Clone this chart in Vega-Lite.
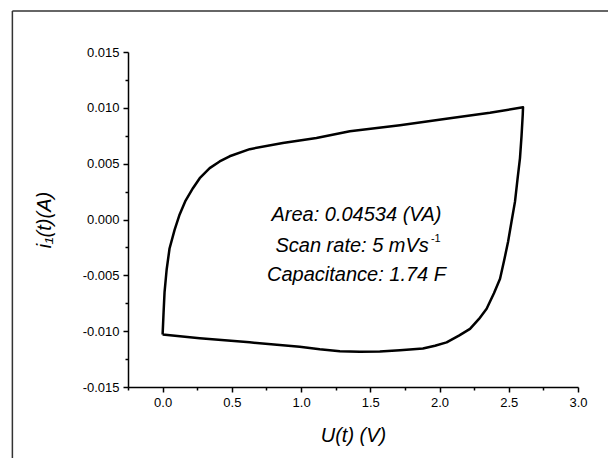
{
  "$schema": "https://vega.github.io/schema/vega-lite/v6.json",
  "width": 450,
  "height": 335,
  "autosize": {"type": "none"},
  "padding": {"left": 128, "top": 52, "right": 30, "bottom": 71},
  "background": "white",
  "config": {
    "view": {"stroke": null},
    "font": "Liberation Sans",
    "axis": {
      "domainColor": "black",
      "domainWidth": 1.5,
      "tickColor": "black",
      "tickWidth": 1.5,
      "tickSize": 5,
      "labelColor": "black",
      "labelFont": "Liberation Sans",
      "labelFontSize": 13,
      "titleFont": "Liberation Sans",
      "titleFontSize": 20,
      "titleFontStyle": "italic",
      "titleFontWeight": "normal",
      "titleColor": "black",
      "grid": false
    }
  },
  "resolve": {"axis": {"x": "independent", "y": "independent"}},
  "datasets": {
    "cv": [
      {"order": 1, "U": 0.0, "I": -0.0103},
      {"order": 2, "U": 0.007, "I": -0.0083},
      {"order": 3, "U": 0.014, "I": -0.0065},
      {"order": 4, "U": 0.029, "I": -0.0045},
      {"order": 5, "U": 0.05, "I": -0.0026},
      {"order": 6, "U": 0.087, "I": -0.0009},
      {"order": 7, "U": 0.123, "I": 0.00045},
      {"order": 8, "U": 0.166, "I": 0.0017},
      {"order": 9, "U": 0.219, "I": 0.0028},
      {"order": 10, "U": 0.268, "I": 0.0037},
      {"order": 11, "U": 0.34, "I": 0.0046},
      {"order": 12, "U": 0.412, "I": 0.0052},
      {"order": 13, "U": 0.484, "I": 0.00566},
      {"order": 14, "U": 0.629, "I": 0.0063},
      {"order": 15, "U": 0.868, "I": 0.00685},
      {"order": 16, "U": 1.111, "I": 0.0073},
      {"order": 17, "U": 1.352, "I": 0.0079},
      {"order": 18, "U": 1.714, "I": 0.00844},
      {"order": 19, "U": 2.075, "I": 0.00907},
      {"order": 20, "U": 2.364, "I": 0.00956},
      {"order": 21, "U": 2.603, "I": 0.01005},
      {"order": 22, "U": 2.601, "I": 0.0094},
      {"order": 23, "U": 2.592, "I": 0.00745},
      {"order": 24, "U": 2.581, "I": 0.0055},
      {"order": 25, "U": 2.563, "I": 0.0036},
      {"order": 26, "U": 2.545, "I": 0.0016},
      {"order": 27, "U": 2.52, "I": -0.00018},
      {"order": 28, "U": 2.495, "I": -0.002},
      {"order": 29, "U": 2.466, "I": -0.0037},
      {"order": 30, "U": 2.437, "I": -0.0053},
      {"order": 31, "U": 2.393, "I": -0.0066},
      {"order": 32, "U": 2.34, "I": -0.008},
      {"order": 33, "U": 2.285, "I": -0.0089},
      {"order": 34, "U": 2.22, "I": -0.0098},
      {"order": 35, "U": 2.14, "I": -0.0104},
      {"order": 36, "U": 2.051, "I": -0.011},
      {"order": 37, "U": 1.967, "I": -0.0113},
      {"order": 38, "U": 1.88, "I": -0.01155},
      {"order": 39, "U": 1.714, "I": -0.0117},
      {"order": 40, "U": 1.569, "I": -0.01182},
      {"order": 41, "U": 1.424, "I": -0.01185},
      {"order": 42, "U": 1.28, "I": -0.01179},
      {"order": 43, "U": 1.135, "I": -0.01162},
      {"order": 44, "U": 0.99, "I": -0.0114},
      {"order": 45, "U": 0.629, "I": -0.011},
      {"order": 46, "U": 0.268, "I": -0.01064},
      {"order": 47, "U": 0.0, "I": -0.0103}
    ],
    "notes": [
      {"label": "Area: 0.04534 (VA)", "U": 1.4, "I": 0.00036},
      {"label": "Capacitance: 1.74 F", "U": 1.4, "I": -0.005}
    ],
    "rate": [
      {"label": "Scan rate: 5 mVs", "sup": "-1", "U": 1.923, "I": -0.0024}
    ]
  },
  "layer": [
    {
      "data": {"name": "cv"},
      "mark": {"type": "line", "color": "black", "strokeWidth": 2.5, "strokeJoin": "round"},
      "encoding": {
        "x": {
          "field": "U",
          "type": "quantitative",
          "scale": {"domain": [-0.25, 3.0], "nice": false, "zero": false},
          "axis": {
            "title": "U(t) (V)",
            "orient": "bottom",
            "values": [0, 0.5, 1, 1.5, 2, 2.5, 3],
            "format": ".1f",
            "labelPadding": 4,
            "titlePadding": 16,
            "labelFlush": false,
            "labelOverlap": false
          }
        },
        "y": {
          "field": "I",
          "type": "quantitative",
          "scale": {"domain": [-0.015, 0.015], "nice": false, "zero": false},
          "axis": {
            "title": "i₁(t)(A)",
            "orient": "left",
            "values": [-0.015, -0.01, -0.005, 0, 0.005, 0.01, 0.015],
            "labelExpr": "replace(format(datum.value, '.3f'), '\u2212', '-')",
            "labelPadding": 4,
            "titlePadding": 28,
            "labelFlush": false,
            "labelOverlap": false
          }
        },
        "order": {"field": "order", "type": "quantitative"}
      }
    },
    {
      "data": {"values": [{}]},
      "mark": {"type": "rule", "color": "#333333", "strokeWidth": 1.5, "clip": false},
      "encoding": {
        "x": {"datum": -1.085, "type": "quantitative", "axis": null},
        "y": {"datum": 0.01868, "type": "quantitative", "axis": null},
        "y2": {"datum": -0.0225}
      }
    },
    {
      "data": {"values": [{}]},
      "mark": {"type": "rule", "color": "#333333", "strokeWidth": 1.5, "clip": false},
      "encoding": {
        "x": {"datum": -1.085, "type": "quantitative", "axis": null},
        "x2": {"datum": 3.3},
        "y": {"datum": 0.01868, "type": "quantitative", "axis": null}
      }
    },
    {
      "data": {"name": "rate"},
      "mark": {"type": "text", "font": "Liberation Sans", "fontStyle": "italic", "fontSize": 20, "color": "black", "align": "right", "baseline": "middle"},
      "encoding": {
        "x": {"field": "U", "type": "quantitative", "axis": null},
        "y": {"field": "I", "type": "quantitative", "axis": null},
        "text": {"field": "label"}
      }
    },
    {
      "data": {"name": "rate"},
      "mark": {"type": "text", "font": "Liberation Sans", "fontSize": 11, "color": "black", "align": "left", "baseline": "middle", "dx": 2, "dy": -7},
      "encoding": {
        "x": {"field": "U", "type": "quantitative", "axis": null},
        "y": {"field": "I", "type": "quantitative", "axis": null},
        "text": {"field": "sup"}
      }
    },
    {
      "data": {"name": "notes"},
      "mark": {"type": "text", "font": "Liberation Sans", "fontStyle": "italic", "fontSize": 20, "color": "black", "align": "center", "baseline": "middle"},
      "encoding": {
        "x": {
          "field": "U",
          "type": "quantitative",
          "axis": {
            "orient": "bottom",
            "title": null,
            "values": [-0.25, 0.25, 0.75, 1.25, 1.75, 2.25, 2.75],
            "labels": false,
            "domain": false,
            "tickSize": 3
          }
        },
        "y": {
          "field": "I",
          "type": "quantitative",
          "axis": {
            "orient": "left",
            "title": null,
            "values": [-0.0125, -0.0075, -0.0025, 0.0025, 0.0075, 0.0125],
            "labels": false,
            "domain": false,
            "tickSize": 3
          }
        },
        "text": {"field": "label"}
      }
    }
  ]
}
